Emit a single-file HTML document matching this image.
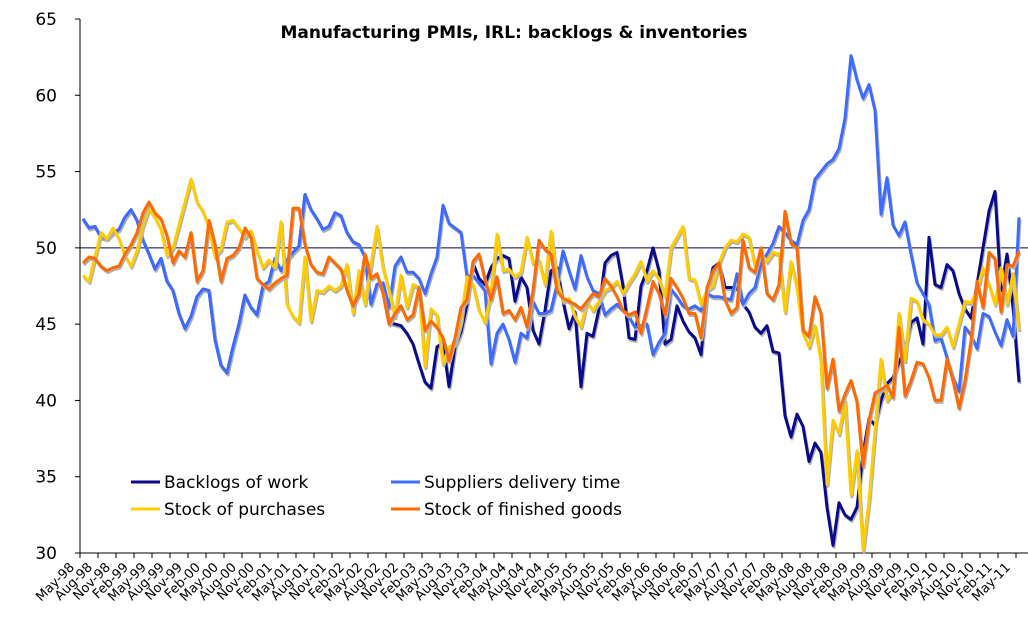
<!DOCTYPE html>
<html><head><meta charset="utf-8">
<style>
body{margin:0;background:#fff;}
svg{display:block;font-family:"DejaVu Sans","Liberation Sans",sans-serif;}
</style></head>
<body>
<svg id="chart" width="1028" height="630" viewBox="0 0 1028 630">
<text x="514" y="38" text-anchor="middle" font-size="17" font-weight="bold" fill="#000">Manufacturing PMIs, IRL: backlogs &amp; inventories</text>
<g id="axes"></g>
<g id="series"></g>
<g>
<g><line x1="131" y1="482" x2="160" y2="482" stroke="#0a0a8c" stroke-width="3"/><text x="164" y="488" font-size="17">Backlogs of work</text></g>
<g><line x1="391" y1="482" x2="420" y2="482" stroke="#3d6bff" stroke-width="3"/><text x="424" y="488" font-size="17">Suppliers delivery time</text></g>
<g><line x1="131" y1="509" x2="160" y2="509" stroke="#ffcc00" stroke-width="3"/><text x="164" y="515" font-size="17">Stock of purchases</text></g>
<g><line x1="391" y1="509" x2="420" y2="509" stroke="#ff6a00" stroke-width="3"/><text x="424" y="515" font-size="17">Stock of finished goods</text></g>
</g>
</svg>
<script>
const supplierDelivery=[51.9,51.3,51.4,50.7,50.6,51,51.2,52,52.5,51.8,50.5,49.6,48.6,49.3,47.8,47.2,45.7,44.7,45.5,46.8,47.3,47.2,44,42.3,41.8,
43.5,45,46.9,46.1,45.6,47.5,47.8,49.3,48.5,49.2,49.7,50.1,53.5,52.5,51.9,51.2,51.4,52.3,52.1,51,50.4,50.2,49.4,46.3,47.6,47.7,46.1,
48.8,49.4,48.4,48.4,48,47,48.3,49.4,52.8,51.6,51.3,51,48.1,48.2,47.7,47.2,42.4,44.4,45,44,42.5,44.4,44.1,46.5,45.7,
45.7,45.9,47.6,49.8,48.5,47.3,49.5,48.1,47.2,47,45.6,46,46.3,45.9,45.5,44.8,44.9,45,43,43.8,44.4,47.3,46.8,46.2,46,46.2,45.9,47,
46.8,46.8,46.7,46.6,48.3,46.3,47,47.4,49,49.6,50.3,51.4,51,50.5,50.2,51.8,52.5,54.5,55,55.5,55.8,56.5,58.5,
62.6,61,59.8,60.7,59,52.2,54.6,51.5,50.8,51.7,49.6,47.7,47,46.3,43.9,44.1,42.8,41.5,40.6,44.8,44.3,43.4,45.7,45.5,44.5,43.6,45.3,44.2,52];
const backlogs=[51.9,51.3,51.4,50.7,50.6,51,51.2,52,52.5,51.8,50.5,49.6,48.6,49.3,47.8,47.2,45.7,44.7,45.5,46.8,47.3,47.2,44,42.3,41.8,
43.5,45,46.9,46.1,45.6,47.5,47.8,49.3,48.5,49.2,49.7,50.1,53.5,52.5,51.9,51.2,51.4,52.3,52.1,51,50.4,50.2,49.4,46.3,47.6,47.7,
45.1,45,44.9,44.4,43.7,42.4,41.2,40.8,43.5,43.8,40.9,43.5,44.5,46.3,49,48,47.6,48.7,49.3,49.5,49.3,46.5,48.1,47.4,44.6,43.7,45.9,
48.5,48.7,46.5,44.7,45.8,40.9,44.4,44.2,46,49,49.5,49.7,47.5,44.1,44,47.5,48.5,50,48.5,43.7,44,46.2,45.2,44.5,44.1,43,47,
48.7,49,47.4,47.4,47.4,46.3,45.8,44.8,44.4,44.9,43.2,43.1,39,37.6,39.1,38.3,36,37.2,36.6,33,30.5,33.3,32.5,32.2,33,36.5,38.8,
38.4,40,41.1,41.5,42.5,43.3,45.1,45.4,43.7,50.7,47.6,47.4,48.9,48.5,47,46,45.4,47.6,50,52.4,53.7,47.2,49.6,46.1,41.2];
const stockPurchases=[48.2,47.8,49.4,51,50.6,51.3,50.6,49.5,48.8,49.8,51.5,52.6,52,51.2,49.5,50,51.5,53,54.5,53,52.4,51.3,49.4,49.9,51.7,
51.8,51.3,50.7,51.1,49.8,48.7,49.2,48.7,51.7,46.3,45.5,45.1,49.4,45.2,47.2,47.1,47.5,47.2,47.5,48.9,45.7,48.5,46.3,48.9,51.4,48.7,47.2,
45.5,48.2,46.1,47.6,47.4,42.2,46,45.6,42.4,43.5,43.7,45.2,48.1,47.6,45.9,45.1,47,50.9,48.5,48.6,48.1,48.4,50.7,49,49.2,47.6,
51.1,47.9,46.5,46.7,45.5,44.8,46.5,45.9,46.5,47.2,47.4,47.8,47,47.7,48.3,49.1,47.8,48.5,48,46.8,50,50.7,51.4,48,47.9,46.3,47.2,
47.5,49,50,50.5,50.4,50.9,50.7,48.8,49.6,49.1,49.7,49.6,45.8,49.1,47.4,44.4,43.5,44.9,42.6,34.5,38.7,37.8,40,33.8,36.7,30.2,33.4,
38,42.7,40,40.6,45.7,42.6,46.7,46.5,45.3,45,44.3,44.3,44.8,43.5,45,46.5,46.4,47.2,48.7,47.6,46.3,48.7,46.3,48.3,44.6];
const stockFinished=[49,49.4,49.3,48.8,48.5,48.7,48.8,49.6,50.2,51,52.3,53,52.3,51.9,50.8,49,49.8,49.4,51,47.8,48.5,51.8,50.2,47.8,49.3,
49.5,50,51.3,50.7,48,47.6,47.3,47.7,48,48.2,52.6,52.6,50.2,48.9,48.4,48.3,49.4,49,48.6,47.2,46.2,47,49.6,48,48.3,47,45,
45.7,46.2,45.3,45.6,47.4,44.6,45.2,44.8,44.1,42.6,44.1,46.1,46.6,49.1,49.6,47.9,46.6,48.1,45.7,45.9,45.3,46.1,44.8,47.2,50.5,49.9,
49.6,47.2,46.7,46.5,46.3,46,46.5,47,46.8,48,47.5,46.8,45.9,45.6,45.8,44.4,46.1,47.8,47,45.6,48,47.4,46.7,45.7,45.7,44.1,47.4,
48.5,49,46.6,45.7,46.1,50.5,48.7,48.4,50,47,46.6,47.6,52.4,50.3,50,44.6,44.2,46.8,45.7,40.8,42.7,39.3,40.4,41.3,39.9,35.7,38.7,
40.5,40.7,41,40.2,44.8,40.3,41.3,42.5,42.4,41.5,40,40,42.7,41.3,39.5,41.3,43.9,47.8,46.1,49.7,49.3,45.8,48.9,48.8,49.8];
const yTicks=[30,35,40,45,50,55,60,65];
const monthNames=["May","Aug","Nov","Feb"];
const startYear=1998;

const NS="http://www.w3.org/2000/svg";
const X0=80,Y0=553,YTOP=19,STEP=6;
function xPos(i){return X0+3+STEP*i;}
function yPos(v){return Y0-(v-30)/(65-30)*(Y0-YTOP);}
function mk(tag,attrs,parent){const e=document.createElementNS(NS,tag);for(const k in attrs)e.setAttribute(k,attrs[k]);parent.appendChild(e);return e;}
const axes=document.getElementById('axes');
const n=supplierDelivery.length;
let ax=mk('line',{x1:X0,y1:YTOP,x2:X0,y2:Y0,stroke:'#000','stroke-width':1},axes);


let bx=mk('line',{x1:X0,y1:Y0,x2:1028,y2:Y0,stroke:'#000','stroke-width':1},axes);


let ref=mk('line',{x1:X0,y1:yPos(50),x2:1028,y2:yPos(50),stroke:'#000040','stroke-width':1},axes);


yTicks.forEach(t=>{
  const y=yPos(t);
  const tk=mk('line',{x1:X0-5,y1:y,x2:X0,y2:y,stroke:'#000'},axes);
  
  
  const tx=mk('text',{x:57,y:y+6,'text-anchor':'end','font-size':17,fill:'#000'},axes);
  tx.textContent=t;
  
  
});
for(let k=0;k*3<n;k++){
  const x=X0+18*k;
  const tk=mk('line',{x1:x,y1:Y0,x2:x,y2:Y0+5,stroke:'#000'},axes);
  
  
  const mi=k%4;
  const yr=startYear+Math.floor((k+1)/4);
  const lbl=monthNames[mi]+'-'+String(yr%100).padStart(2,'0');
  const tx=mk('text',{x:x-5,y:Y0+15,'text-anchor':'end','font-size':13,fill:'#000',transform:`rotate(-45 ${x-5} ${Y0+15})`},axes);
  tx.textContent=lbl;
  
  
}
const sg=document.getElementById('series');
function drawSeries(arr,color,name){
  const pts=arr.map((v,i)=>xPos(i).toFixed(1)+','+yPos(v).toFixed(1)).join(' ');
  const sh=mk('polyline',{points:pts,fill:'none',stroke:'#b0b0b0','stroke-width':3,'stroke-linejoin':'round',transform:'translate(1,2)'},sg);
  
  
  const p=mk('polyline',{points:pts,fill:'none',stroke:color,'stroke-width':3,'stroke-linejoin':'round'},sg);
  
  
}
drawSeries(backlogs,'#0a0a8c','backlogs');
drawSeries(supplierDelivery,'#3d6bff','suppliers-delivery');
drawSeries(stockPurchases,'#ffcc00','stock-purchases');
drawSeries(stockFinished,'#ff6a00','stock-finished');
</script>
</body></html>
